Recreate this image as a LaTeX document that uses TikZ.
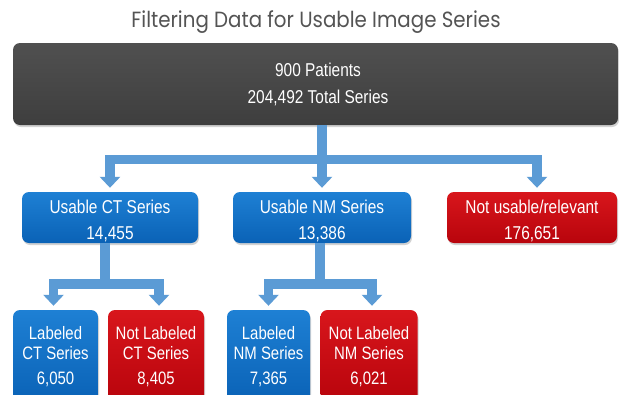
\documentclass[tikz,border=0pt]{standalone}
\usepackage{fontspec}
\setmainfont{Liberation Sans}[FakeStretch=0.83]
\newfontfamily\titlefont{Poppins}[FakeStretch=0.9]
\usetikzlibrary{arrows.meta,shadows}

\definecolor{linkblue}{RGB}{91,155,213}
\definecolor{boxblueA}{RGB}{30,128,212}
\definecolor{boxblueB}{RGB}{10,98,182}
\definecolor{boxredA}{RGB}{216,22,28}
\definecolor{boxredB}{RGB}{184,4,12}
\definecolor{darkA}{RGB}{80,80,80}
\definecolor{darkB}{RGB}{62,62,62}
\definecolor{titlegray}{RGB}{84,84,84}

\tikzset{
  box/.style={rounded corners=7pt, inner sep=0pt,
    drop shadow={opacity=0.35, shadow xshift=1pt, shadow yshift=-2pt}},
  bluefill/.style={top color=boxblueA, bottom color=boxblueB},
  redfill/.style={top color=boxredA, bottom color=boxredB},
  darkfill/.style={top color=darkA, bottom color=darkB},
  boxtext/.style={text=white, align=center, inner sep=0pt,
    font=\fontsize{18.6}{26}\selectfont},
  smalltext/.style={boxtext, font=\fontsize{18}{20}\selectfont},
  link/.style={draw=linkblue, line width=9.5pt, line join=miter},
  linkarrow/.style={link, -{Triangle[width=20pt,length=11pt]}, shorten >=4pt}
}

\begin{document}
\begin{tikzpicture}[x=1pt,y=-1pt]
  \fill[white] (0,0) rectangle (619,394);
  \useasboundingbox (0,0) rectangle (619,394);

  % heading
  \node[text=titlegray, anchor=base, inner sep=0pt,
        font=\titlefont\fontsize{22}{24}\selectfont] (title) at (316,27.3)
    {Filtering Data for Usable Image Series};

  % all patients
  \node[box, darkfill, minimum width=605pt, minimum height=82pt] (top) at (315.5,84) {};
  \node[boxtext, font=\fontsize{18.6}{27}\selectfont] (toptext) at ([xshift=2.5pt,yshift=-0.5pt]top.center)
    {900 Patients\\204,492 Total Series};

  % first split
  \node[box, bluefill, minimum width=176pt, minimum height=51pt] (cts) at (110,217.5) {};
  \node[box, bluefill, minimum width=178pt, minimum height=51pt] (nms) at (322,217.5) {};
  \node[box, redfill, minimum width=170pt, minimum height=51pt] (nus) at (532,217.5) {};
  \node[boxtext] (ctstext) at ([yshift=-3pt]cts.center) {Usable CT Series\\14,455};
  \node[boxtext] (nmstext) at ([yshift=-3pt]nms.center) {Usable NM Series\\13,386};
  \node[boxtext] (nustext) at ([yshift=-3pt]nus.center) {Not usable/relevant\\176,651};

  % labeled / not labeled
  \node[box, bluefill, minimum width=85pt, minimum height=92pt] (lct) at (55.5,356) {};
  \node[box, redfill, minimum width=96pt, minimum height=92pt] (nlct) at (156,356) {};
  \node[box, bluefill, minimum width=83pt, minimum height=92pt] (lnm) at (268.5,356) {};
  \node[box, redfill, minimum width=97pt, minimum height=92pt] (nlnm) at (369,356) {};
  \node[smalltext, anchor=north] (lcttext) at ([yshift=-16pt]lct.north) {Labeled\\CT Series\\[5pt]6,050};
  \node[smalltext, anchor=north] (nlcttext) at ([yshift=-16pt]nlct.north) {Not Labeled\\CT Series\\[5pt]8,405};
  \node[smalltext, anchor=north] (lnmtext) at ([yshift=-16pt]lnm.north) {Labeled\\NM Series\\[5pt]7,365};
  \node[smalltext, anchor=north] (nlnmtext) at ([yshift=-16pt]nlnm.north) {Not Labeled\\NM Series\\[5pt]6,021};

  % connectors
  \coordinate (hub) at (322,159.5);
  \draw[link] (top.south -| hub) -- (hub);
  \draw[linkarrow] (hub) -| (cts.north);
  \draw[linkarrow] (hub) -- (nms.north);
  \draw[linkarrow] (hub) -| ([xshift=5pt]nus.north);

  \coordinate (cthub) at (105,284);
  \draw[link] (cts.south -| cthub) -- (cthub);
  \draw[linkarrow] (cthub) -| ([xshift=-2pt]lct.north);
  \draw[linkarrow] (cthub) -| ([xshift=3pt]nlct.north);

  \coordinate (nmhub) at (320,284);
  \draw[link] (nms.south -| nmhub) -- (nmhub);
  \draw[linkarrow] (nmhub) -| (lnm.north);
  \draw[linkarrow] (nmhub) -| ([xshift=3pt]nlnm.north);
\end{tikzpicture}
\end{document}
